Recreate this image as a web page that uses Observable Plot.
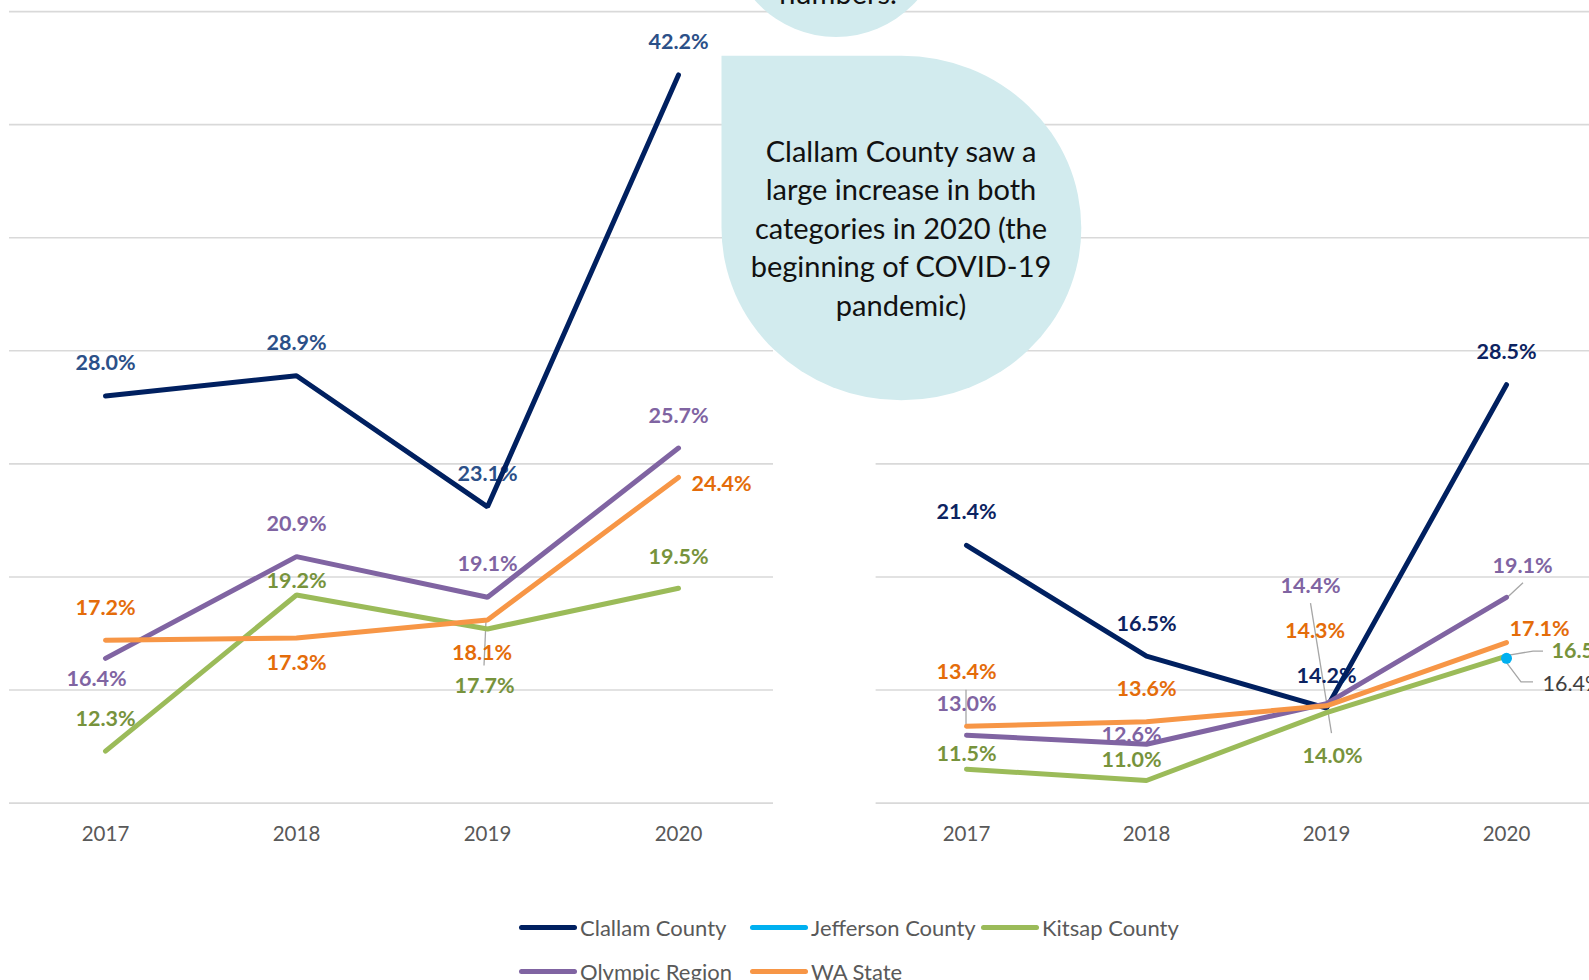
<!DOCTYPE html>
<html>
<head>
<meta charset="utf-8">
<script src="https://cdn.jsdelivr.net/npm/d3@7"></script>
<script src="https://cdn.jsdelivr.net/npm/@observablehq/plot@0.6"></script>
<style>
  html, body { margin: 0; padding: 0; background: #fff; }
  body { width: 1589px; height: 980px; overflow: hidden; position: relative; font-family: Lato, "Open Sans", sans-serif; }
  .panel { position: absolute; top: 0; width: 800px; height: 860px; }
  .panel svg { overflow: visible; }
  g[aria-label^="x-axis"] text { font-family: Lato, sans-serif; font-size: 20.5px; fill: #595959; }
  #notes { position: absolute; left: 0; top: 0; width: 1589px; height: 980px; pointer-events: none; }
  .leg { position: absolute; display: flex; align-items: center; height: 30px; white-space: nowrap; }
  .leg .sw { display: inline-block; width: 58px; height: 5px; border-radius: 3px; margin-right: 3px; }
  .leg .tx { font-family: Lato, sans-serif; font-size: 22px; color: #595959; }
</style>
</head>
<body>
<div id="left" class="panel" style="left:0px"></div>
<div id="right" class="panel" style="left:850px"></div>
<svg id="notes"></svg>
<div id="legend"></div>
<script>
// ---------------- DATA ----------------
const years = ["2017", "2018", "2019", "2020"];
const seriesNames = ["Clallam County", "Jefferson County", "Kitsap County", "Olympic Region", "WA State"];

// left chart (%)
const leftClallam   = [28.0, 28.9, 23.1, 42.2];
const leftJefferson = [null, null, null, null];
const leftKitsap    = [12.3, 19.2, 17.7, 19.5];
const leftOlympic   = [16.4, 20.9, 19.1, 25.7];
const leftWA        = [17.2, 17.3, 18.1, 24.4];

// right chart (%)
const rightClallam   = [21.4, 16.5, 14.2, 28.5];
const rightJefferson = [null, null, null, 16.4];
const rightKitsap    = [11.5, 11.0, 14.0, 16.5];
const rightOlympic   = [13.0, 12.6, 14.4, 19.1];
const rightWA        = [13.4, 13.6, 14.3, 17.1];

const yTicks = [10, 15, 20, 25, 30, 35, 40, 45];

const noteLines = ["Clallam County saw a", "large increase in both", "categories in 2020 (the", "beginning of COVID-19", "pandemic)"];
const topNoteText = "numbers.";

// ---------------- STYLE ----------------
const lineColors = ["#002060", "#00B0F0", "#9BBB59", "#8064A2", "#F79646"];
const leftLabelColors  = ["#2B5088", "#404040", "#77933C", "#8064A2", "#E46C0A"];
const rightLabelColors = ["#0C2361", "#404040", "#77933C", "#8064A2", "#E46C0A"];
const labelWeights = ["bold", "normal", "bold", "bold", "bold"];

// label offsets [dx, dy, anchor] in px relative to the data point
const leftLabelPos = [
  [[0, -32.5], [0, -32.5], [0, -32.5], [0, -32.5]],
  [null, null, null, null],
  [[0, -32], [0, -14], [-3, 57], [0, -31.5]],
  [[-9, 21], [0, -32], [0, -33], [0, -32]],
  [[0, -32], [0, 25], [-5.5, 33], [43, 7]]
];
const rightLabelPos = [
  [[0, -33], [0, -32], [0, -32], [0, -33]],
  [null, null, null, [36, 26, "start"]],
  [[0, -15], [-15, -20], [6, 43], [45, -5, "start"]],
  [[0, -31], [-15, -9], [-16, -117.5], [16, -31]],
  [[0, -54], [0, -33], [-11.5, -75], [33, -13]]
];
// leader lines: [seriesIndex, yearIndex, polyline offsets]
const leftLeaders = [
  [2, 2, [[-1, -8], [-3, 37]]]
];
const rightLeaders = [
  [4, 0, [[0, -36], [0, 0]]],
  [3, 2, [[-15.5, -100], [5.5, 30]]],
  [3, 3, [[17, -14], [2, 0]]],
  [2, 3, [[0, 0], [27, -4.5], [37, -4.5]]],
  [1, 3, [[0, 4], [15, 24], [27, 24]]]
];

function buildPanel(valuesList, labelPos, labelColors, leaders, geom) {
  const rows = [];
  valuesList.forEach((vals, s) => vals.forEach((v, i) => {
    if (v != null) rows.push({series: seriesNames[s], year: years[i], value: v});
  }));
  const marks = [
    Plot.ruleY(yTicks, {stroke: "#D9D9D9", strokeWidth: 1.6})
  ];
  // leader lines
  marks.push((index, scales) => {
    const g = d3.create("svg:g");
    for (const [s, i, pts] of leaders) {
      const x0 = scales.x(years[i]), y0 = scales.y(valuesList[s][i]);
      g.append("polyline")
        .attr("points", pts.map(([dx, dy]) => `${x0 + dx},${y0 + dy}`).join(" "))
        .attr("fill", "none").attr("stroke", "#A6A6A6").attr("stroke-width", 1.3);
    }
    return g.node();
  });
  // data labels
  valuesList.forEach((vals, s) => vals.forEach((v, i) => {
    if (v == null) return;
    const o = labelPos[s][i];
    marks.push(Plot.text([{year: years[i], value: v}], {
      x: "year", y: "value",
      text: d => d.value.toFixed(1) + "%",
      fill: labelColors[s], fontSize: 21.5, fontWeight: labelWeights[s], fontFamily: "Lato",
      dx: o[0], dy: o[1], textAnchor: o[2] || "middle"
    }));
  }));
  marks.push(Plot.line(rows, {x: "year", y: "value", z: "series", stroke: "series", strokeWidth: 5, strokeLinecap: "round", strokeLinejoin: "miter"}));
  marks.push(Plot.dot(rows.filter(d => d.series === "Jefferson County"), {x: "year", y: "value", fill: "series", r: 5.5}));
  return Plot.plot({
    width: 800, height: 860,
    marginTop: 11.1, marginBottom: 57.4, marginLeft: geom.ml, marginRight: geom.mr,
    style: {overflow: "visible", maxWidth: "none", background: "transparent", fontSize: "20.5px", fontFamily: "Lato", color: "#595959"},
    x: {type: "point", domain: years, padding: 0.5, tickSize: 0, tickPadding: 23, label: null},
    y: {domain: [10, 45], axis: null},
    color: {domain: seriesNames, range: lineColors},
    marks
  });
}

document.getElementById("left").appendChild(
  buildPanel([leftClallam, leftJefferson, leftKitsap, leftOlympic, leftWA], leftLabelPos, leftLabelColors, leftLeaders, {ml: 9, mr: 27}));
document.getElementById("right").appendChild(
  buildPanel([rightClallam, rightJefferson, rightKitsap, rightOlympic, rightWA], rightLabelPos, rightLabelColors, rightLeaders, {ml: 25.6, mr: 54.4}));

// ---------------- callout bubbles ----------------
const notes = d3.select("#notes");
notes.append("circle").attr("cx", 836).attr("cy", -71).attr("r", 108).attr("fill", "#D2EBEE");
notes.append("text").attr("x", 838).attr("y", 4).attr("text-anchor", "middle")
  .attr("font-family", "Lato").attr("font-size", 29).attr("fill", "#111").text(topNoteText);
notes.append("path")
  .attr("d", "M721.5,55.7 H901.4 A179.9,172.3 0 0 1 1081.3,228 A179.9,172.3 0 0 1 901.4,400.3 A179.9,172.3 0 0 1 721.5,228 Z")
  .attr("fill", "#D2EBEE");
notes.append("g").selectAll("text").data(noteLines).join("text")
  .attr("x", 901).attr("y", (d, i) => 161.7 + i * 38.5).attr("text-anchor", "middle")
  .attr("font-family", "Lato").attr("font-size", 29).attr("fill", "#111").text(d => d);

// ---------------- legend ----------------
const legend = d3.select("#legend");
seriesNames.forEach((name, i) => {
  const col = i % 3, row = Math.floor(i / 3);
  const item = legend.append("div").attr("class", "leg")
    .style("left", (519 + col * 231) + "px").style("top", (927 + row * 44.5 - 15) + "px");
  item.append("span").attr("class", "sw").style("background", lineColors[i]);
  item.append("span").attr("class", "tx").text(name);
});
</script>
</body>
</html>
